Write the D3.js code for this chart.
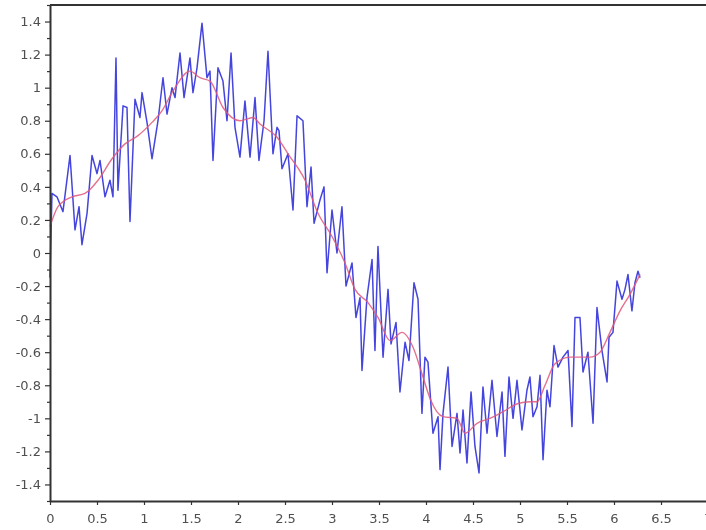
<!DOCTYPE html>
<html>
<head>
<meta charset="utf-8">
<script src="https://cdn.jsdelivr.net/npm/d3@7"></script>
<style>
  html, body { margin: 0; padding: 0; background: #fff; }
  svg { display: block; }
  .tick text { font-family: "DejaVu Sans", sans-serif; font-size: 13px; fill: #505050; }
</style>
</head>
<body>
<svg id="chart" width="706" height="530"></svg>
<script>
// Noisy signal (blue)
const noisyX = [0.000,0.021,0.074,0.138,0.213,0.266,0.309,0.340,0.394,0.447,0.500,0.532,0.585,0.638,0.670,0.702,0.723,0.777,0.819,0.851,0.904,0.957,0.979,1.032,1.085,1.149,1.202,1.245,1.298,1.330,1.383,1.426,1.489,1.521,1.564,1.617,1.670,1.702,1.734,1.787,1.840,1.883,1.926,1.968,2.021,2.074,2.128,2.181,2.223,2.277,2.319,2.372,2.415,2.436,2.468,2.532,2.585,2.628,2.691,2.734,2.777,2.809,2.872,2.915,2.947,3.000,3.053,3.106,3.149,3.213,3.255,3.298,3.319,3.372,3.426,3.457,3.489,3.543,3.596,3.628,3.681,3.723,3.777,3.819,3.872,3.915,3.957,3.989,4.021,4.074,4.128,4.149,4.181,4.234,4.277,4.330,4.362,4.394,4.436,4.479,4.521,4.564,4.606,4.649,4.702,4.755,4.809,4.840,4.883,4.926,4.968,5.021,5.074,5.106,5.138,5.181,5.213,5.245,5.287,5.319,5.362,5.404,5.457,5.511,5.553,5.585,5.638,5.670,5.723,5.777,5.819,5.872,5.926,5.947,5.989,6.032,6.085,6.117,6.149,6.191,6.223,6.255,6.277];
const noisyY = [-0.15,0.36,0.34,0.25,0.59,0.14,0.28,0.05,0.24,0.59,0.48,0.56,0.34,0.44,0.34,1.18,0.38,0.89,0.88,0.19,0.93,0.82,0.97,0.79,0.57,0.80,1.06,0.84,1.00,0.94,1.21,0.94,1.18,0.97,1.12,1.39,1.06,1.10,0.56,1.12,1.04,0.80,1.21,0.76,0.58,0.92,0.58,0.94,0.56,0.80,1.22,0.60,0.76,0.74,0.51,0.60,0.26,0.83,0.80,0.28,0.52,0.18,0.32,0.40,-0.12,0.26,0.00,0.28,-0.20,-0.06,-0.39,-0.27,-0.71,-0.27,-0.04,-0.59,0.04,-0.63,-0.22,-0.55,-0.42,-0.84,-0.54,-0.65,-0.18,-0.28,-0.97,-0.63,-0.66,-1.09,-0.99,-1.31,-0.97,-0.69,-1.17,-0.97,-1.21,-0.95,-1.27,-0.84,-1.17,-1.33,-0.81,-1.09,-0.77,-1.11,-0.84,-1.23,-0.75,-1.00,-0.77,-1.07,-0.83,-0.75,-0.99,-0.93,-0.74,-1.25,-0.83,-0.93,-0.56,-0.69,-0.63,-0.59,-1.05,-0.39,-0.39,-0.72,-0.60,-1.03,-0.33,-0.59,-0.78,-0.51,-0.48,-0.17,-0.28,-0.22,-0.13,-0.35,-0.18,-0.11,-0.15];

// Smoothed signal (red)
const smoothX = [0.000,0.085,0.234,0.372,0.511,0.660,0.798,0.936,1.085,1.191,1.309,1.489,1.596,1.702,1.840,2.021,2.160,2.234,2.415,2.532,2.713,2.851,3.000,3.138,3.245,3.383,3.489,3.617,3.745,3.862,3.968,4.043,4.181,4.330,4.415,4.543,4.681,4.819,4.979,5.106,5.181,5.266,5.372,5.532,5.745,5.851,5.957,6.064,6.170,6.277];
const smoothY = [0.16,0.28,0.34,0.36,0.44,0.57,0.66,0.71,0.79,0.86,0.98,1.10,1.06,1.04,0.88,0.80,0.82,0.78,0.70,0.60,0.44,0.24,0.10,-0.06,-0.22,-0.30,-0.39,-0.53,-0.48,-0.57,-0.75,-0.88,-0.99,-1.00,-1.09,-1.03,-1.00,-0.96,-0.91,-0.90,-0.90,-0.80,-0.67,-0.63,-0.63,-0.60,-0.48,-0.35,-0.25,-0.13];

// Ticks
const xTicks = [0,0.5,1,1.5,2,2.5,3,3.5,4,4.5,5,5.5,6,6.5,7];
const yTicks = [-1.4,-1.2,-1,-0.8,-0.6,-0.4,-0.2,0,0.2,0.4,0.6,0.8,1,1.2,1.4];
const yMinorTicks = [-1.5,-1.3,-1.1,-0.9,-0.7,-0.5,-0.3,-0.1,0.1,0.3,0.5,0.7,0.9,1.1,1.3,1.5];

const svg = d3.select("#chart");
const defs = svg.append("defs");
defs.append("filter").attr("id", "soft").attr("x", "-5%").attr("y", "-5%").attr("width", "110%").attr("height", "110%")
  .append("feGaussianBlur").attr("stdDeviation", 0.6);
const root = svg.append("g").attr("filter", "url(#soft)");

const x = d3.scaleLinear().domain([0, 7]).range([50, 708]);
const y = d3.scaleLinear().domain([-1.5, 1.5]).range([501, 5]);

const fmt = v => String(Math.round(v * 10) / 10);

// frame (top and right)
root.append("line").attr("x1", x(0)).attr("x2", x(7)).attr("y1", y(1.5)).attr("y2", y(1.5))
  .attr("stroke", "#333").attr("stroke-width", 2);
root.append("line").attr("x1", x(7)).attr("x2", x(7)).attr("y1", y(1.5)).attr("y2", y(-1.5))
  .attr("stroke", "#333").attr("stroke-width", 2);

// data lines
const lineN = d3.line().x((d, i) => x(noisyX[i])).y(d => y(d));
root.append("path").datum(noisyY).attr("d", lineN)
  .attr("fill", "none").attr("stroke", "#2424d8").attr("stroke-width", 1.5)
  .attr("stroke-opacity", 0.85).attr("stroke-linejoin", "round");

const lineS = d3.line().x((d, i) => x(smoothX[i])).y(d => y(d)).curve(d3.curveMonotoneX);
root.append("path").datum(smoothY).attr("d", lineS)
  .attr("fill", "none").attr("stroke", "#e0587a").attr("stroke-width", 1.4)
  .attr("stroke-opacity", 0.85);

// y axis minor
root.append("g").attr("transform", `translate(${x(0)},0)`)
  .call(d3.axisLeft(y).tickValues(yMinorTicks).tickSize(3).tickFormat(""))
  .call(g => g.select(".domain").remove())
  .call(g => g.selectAll(".tick line").attr("stroke", "#333").attr("stroke-width", 1.2));

// y axis
root.append("g").attr("transform", `translate(${x(0)},0)`)
  .call(d3.axisLeft(y).tickValues(yTicks).tickSize(5).tickPadding(4).tickSizeOuter(0).tickFormat(fmt))
  .call(g => g.select(".domain").attr("stroke", "#333").attr("stroke-width", 2))
  .call(g => g.selectAll(".tick line").attr("stroke", "#333").attr("stroke-width", 1.2));

// x axis
root.append("g").attr("transform", `translate(0,${y(-1.5)})`)
  .call(d3.axisBottom(x).tickValues(xTicks).tickSize(4).tickPadding(9).tickSizeOuter(0).tickFormat(fmt))
  .call(g => g.select(".domain").attr("stroke", "#333").attr("stroke-width", 2))
  .call(g => g.selectAll(".tick line").attr("stroke", "#333").attr("stroke-width", 1.2));
</script>
</body>
</html>
